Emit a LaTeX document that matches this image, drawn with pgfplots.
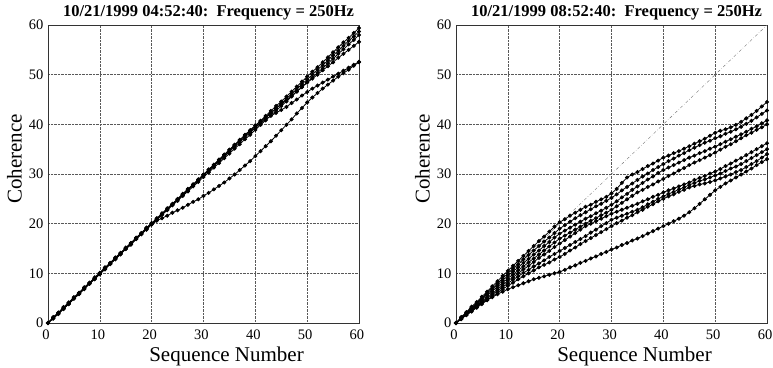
\documentclass[border=0pt]{standalone}
\usepackage{fontspec}
\setmainfont{Liberation Serif}
\usepackage{pgfplots}
\usepackage{pgfplotstable}
\pgfplotsset{compat=1.18}

% Coherence vs. sequence number, 04:52:40 run (six channels)
\pgfplotstableread{
x    a     b     c     d     e     f
0    0     0     0     0     0     0
1    1.2   1.0   0.9   1.1   1.0   0.9
2    2.1   2.0   1.8   2.1   1.9   1.9
3    3.2   3.0   2.9   3.0   3.0   2.8
4    4.1   4.0   3.8   4.1   3.9   3.9
5    5.2   5.0   4.9   5.1   5.0   4.9
6    6.1   6.0   5.8   6.0   5.9   5.9
7    7.2   7.0   6.9   7.1   7.0   6.8
8    8.1   8.0   7.9   8.1   7.9   7.9
9    9.2   9.0   8.8   9.0   9.0   8.9
10   10.1  10.0  9.9   10.1  9.9   9.8
11   11.2  11.0  10.8  11.1  11.0  10.9
12   12.1  12.0  11.9  12.0  11.9  11.9
13   13.2  13.0  12.9  13.1  13.0  12.8
14   14.1  14.0  13.8  14.1  13.9  13.9
15   15.2  15.0  14.9  15.0  15.0  14.9
16   16.1  16.0  15.8  16.1  15.9  15.8
17   17.2  17.0  16.9  17.1  17.0  16.9
18   18.1  18.0  17.9  18.0  17.9  17.9
19   19.2  19.0  18.8  19.1  19.0  18.9
20   20.1  20.0  19.9  20.1  19.9  19.8
21   21.1  21.0  20.8  20.9  20.8  20.6
22   22.1  21.9  21.8  21.9  21.8  21.1
23   23.1  22.9  22.7  22.9  22.8  21.6
24   24.0  23.9  23.7  23.9  23.8  22.2
25   25.0  24.8  24.6  24.9  24.8  22.7
26   26.0  25.8  25.6  25.9  25.8  23.2
27   27.0  26.8  26.5  26.9  26.8  23.8
28   27.9  27.7  27.5  27.9  27.8  24.4
29   28.9  28.7  28.4  28.9  28.8  24.9
30   29.9  29.7  29.4  29.9  29.8  25.6
31   30.9  30.6  30.3  30.9  30.8  26.2
32   31.8  31.6  31.3  31.9  31.8  26.9
33   32.8  32.6  32.2  32.9  32.8  27.6
34   33.8  33.5  33.2  33.9  33.8  28.3
35   34.8  34.5  34.1  34.9  34.8  29.1
36   35.8  35.5  35.1  35.9  35.8  29.9
37   36.7  36.4  36.0  36.9  36.7  30.8
38   37.8  37.4  37.0  37.9  37.7  31.7
39   38.8  38.4  37.9  38.8  38.5  32.6
40   39.7  39.3  38.9  39.8  39.4  33.6
41   40.7  40.3  39.9  40.6  40.2  34.6
42   41.7  41.3  40.8  41.5  41.0  35.6
43   42.7  42.2  41.8  42.4  41.7  36.6
44   43.7  43.2  42.7  43.2  42.3  37.7
45   44.6  44.2  43.7  44.0  42.9  38.8
46   45.6  45.2  44.6  44.9  43.5  39.9
47   46.6  46.1  45.6  45.8  44.3  41.0
48   47.6  47.1  46.6  46.6  45.0  42.2
49   48.6  48.1  47.5  47.5  45.8  43.3
50   49.6  49.0  48.5  48.4  46.5  44.4
51   50.6  50.0  49.4  49.2  47.2  45.4
52   51.5  51.0  50.4  50.0  47.8  46.3
53   52.5  51.9  51.3  50.9  48.4  47.2
54   53.5  52.9  52.3  51.7  49.0  48.0
55   54.5  53.9  53.2  52.5  49.6  48.8
56   55.5  54.8  54.2  53.4  50.2  49.6
57   56.5  55.8  55.1  54.2  50.8  50.3
58   57.4  56.8  56.1  55.0  51.4  51.0
59   58.4  57.7  57.0  55.8  52.0  51.8
60   59.4  58.7  58.0  56.6  52.6  52.5
}\earlyrun

% Coherence vs. sequence number, 08:52:40 run (eight channels)
\pgfplotstableread{
x   r1    r2    r3    r4    r5    r6    r7    r8
0   0     0     0     0     0     0     0     0
1   1.2   1.1   1.0   0.9   0.9   0.8   0.8   0.8
2   2.2   2.1   2.0   1.9   1.8   1.7   1.6   1.6
3   3.3   3.1   2.9   2.8   2.6   2.5   2.3   2.4
4   4.2   4.0   3.9   3.7   3.5   3.3   3.1   3.2
5   5.3   5.0   4.8   4.6   4.3   4.1   3.8   4.0
6   6.3   6.0   5.8   5.5   5.1   4.9   4.6   4.6
7   7.4   7.0   6.7   6.4   5.9   5.7   5.3   5.2
8   8.4   8.0   7.7   7.3   6.8   6.5   6.1   5.8
9   9.5   9.0   8.6   8.1   7.6   7.2   6.8   6.3
10  10.5  10.0  9.5   9.0   8.5   8.0   7.5   6.8
11  11.5  10.9  10.4  9.8   9.2   8.7   8.1   7.2
12  12.5  11.8  11.2  10.6  10.0  9.4   8.8   7.6
13  13.5  12.8  12.1  11.4  10.8  10.1  9.4   8.0
14  14.5  13.7  12.9  12.2  11.5  10.7  10.0  8.4
15  15.5  14.6  13.8  13.0  12.3  11.4  10.6  8.8
16  16.5  15.5  14.6  13.8  13.1  12.0  11.2  9.1
17  17.4  16.4  15.5  14.6  13.8  12.6  11.7  9.4
18  18.4  17.2  16.3  15.4  14.5  13.3  12.2  9.7
19  19.4  18.1  17.2  16.2  15.3  13.9  12.8  10.0
20  20.3  19.0  18.0  17.0  16.0  14.5  13.3  10.3
21  20.9  19.7  18.6  17.6  16.7  15.1  13.9  10.7
22  21.6  20.4  19.2  18.2  17.4  15.7  14.6  11.2
23  22.2  21.1  19.8  18.8  18.1  16.3  15.2  11.6
24  22.8  21.7  20.4  19.4  18.8  16.9  15.9  12.1
25  23.4  22.3  21.0  20.0  19.5  17.5  16.5  12.5
26  23.8  22.9  21.5  20.6  20.0  18.2  17.1  13.0
27  24.4  23.5  22.1  21.1  20.5  18.8  17.7  13.4
28  24.9  24.0  22.6  21.7  21.0  19.5  18.3  13.9
29  25.4  24.6  23.2  22.2  21.5  20.1  18.9  14.3
30  26.1  25.2  23.8  22.8  22.0  20.8  19.5  14.8
31  27.0  25.9  24.5  23.5  22.4  21.2  20.1  15.2
32  28.2  26.7  25.3  24.2  22.8  21.6  20.6  15.7
33  29.3  27.4  26.0  24.9  23.2  22.0  21.2  16.1
34  29.9  28.1  26.8  25.6  23.6  22.4  21.7  16.6
35  30.4  28.8  27.5  26.3  24.0  22.8  22.3  17.0
36  31.0  29.5  28.2  26.8  24.5  23.3  22.8  17.5
37  31.6  30.1  28.9  27.4  24.9  23.9  23.4  18.0
38  32.1  30.8  29.5  27.9  25.4  24.4  23.9  18.5
39  32.7  31.4  30.2  28.5  25.8  25.0  24.5  19.0
40  33.3  32.0  30.8  29.0  26.3  25.5  25.0  19.5
41  33.7  32.6  31.3  29.6  26.7  26.0  25.5  20.0
42  34.2  33.1  31.8  30.1  27.1  26.4  25.9  20.5
43  34.6  33.7  32.3  30.7  27.5  26.9  26.4  21.0
44  35.1  34.2  32.8  31.2  27.9  27.3  26.8  21.6
45  35.6  34.8  33.3  31.8  28.3  27.8  27.3  22.3
46  36.1  35.3  33.7  32.3  28.8  28.2  27.6  23.1
47  36.6  35.8  34.2  32.8  29.2  28.6  27.9  24.0
48  37.1  36.3  34.6  33.3  29.6  28.9  28.1  24.9
49  37.7  36.7  35.1  33.8  30.1  29.3  28.4  25.8
50  38.3  37.2  35.5  34.3  30.5  29.7  28.7  26.7
51  38.7  37.6  36.0  34.9  31.0  30.1  29.1  27.4
52  39.0  38.1  36.5  35.5  31.6  30.6  29.5  28.1
53  39.4  38.5  37.0  36.0  32.1  31.1  29.9  28.7
54  39.9  39.0  37.5  36.6  32.7  31.5  30.4  29.3
55  40.5  39.5  38.0  37.2  33.2  32.0  30.8  29.9
56  41.2  40.1  38.5  37.8  33.8  32.6  31.4  30.5
57  41.9  40.7  39.1  38.3  34.4  33.2  32.0  31.1
58  42.7  41.4  39.6  38.9  35.0  33.8  32.6  31.8
59  43.6  42.1  40.2  39.4  35.6  34.4  33.3  32.4
60  44.5  42.8  40.8  40.0  36.2  35.0  34.0  33.0
}\laterun

\pgfplotsset{
  cohplot/.style={
    scale only axis, width=311pt, height=298pt,
    xmin=0, xmax=60, ymin=0, ymax=60,
    xtick={0,10,...,60}, ytick={0,10,...,60},
    grid=major,
    major grid style={densely dotted, black!65, line width=0.6pt},
    major tick length=0pt,
    axis line style={line width=0.6pt, black!80},
    /pgf/number format/assume math mode=true,
    tick label style={font=\fontsize{14.5}{15}\selectfont},
    xticklabel style={yshift=-3pt, xshift=-2pt},
    yticklabel style={xshift=-1pt},
    xlabel={Sequence Number},
    ylabel={Coherence},
    xlabel style={font=\fontsize{21}{22}\selectfont,
      at={(axis description cs:0.574,0)}, anchor=base, yshift=-38pt},
    ylabel style={font=\fontsize{21}{22}\selectfont,
      at={(axis description cs:-0.108,0.55)}, anchor=center},
    title style={font=\bfseries\fontsize{16.5}{17}\selectfont,
      at={(axis description cs:0.5,1)}, anchor=base, inner sep=0pt,
      yshift=3pt, xshift=5pt},
  },
  chan/.style={black, line width=0.8pt, mark=*, mark size=1.6pt,
    mark options={solid, fill=black}},
}

\begin{document}
\begin{tikzpicture}
\useasboundingbox (0,0) rectangle (773pt,367pt);

\begin{axis}[cohplot, at={(48pt,44pt)}, anchor=south west,
  title={10/21/1999 04:52:40:~~Frequency = 250Hz}]
  \foreach \c in {a,b,c,d,e,f}{
    \addplot[chan] table[x=x, y=\c] {\earlyrun};
  }
\end{axis}

\begin{axis}[cohplot, at={(456pt,44pt)}, anchor=south west,
  title={10/21/1999 08:52:40:~~Frequency = 250Hz}]
  % reference line of full coherence
  \addplot[black!55, dash dot, line width=0.4pt] coordinates {(0,0) (60,60)};
  \foreach \c in {r1,r2,r3,r4,r5,r6,r7,r8}{
    \addplot[chan] table[x=x, y=\c] {\laterun};
  }
\end{axis}
\end{tikzpicture}
\end{document}
